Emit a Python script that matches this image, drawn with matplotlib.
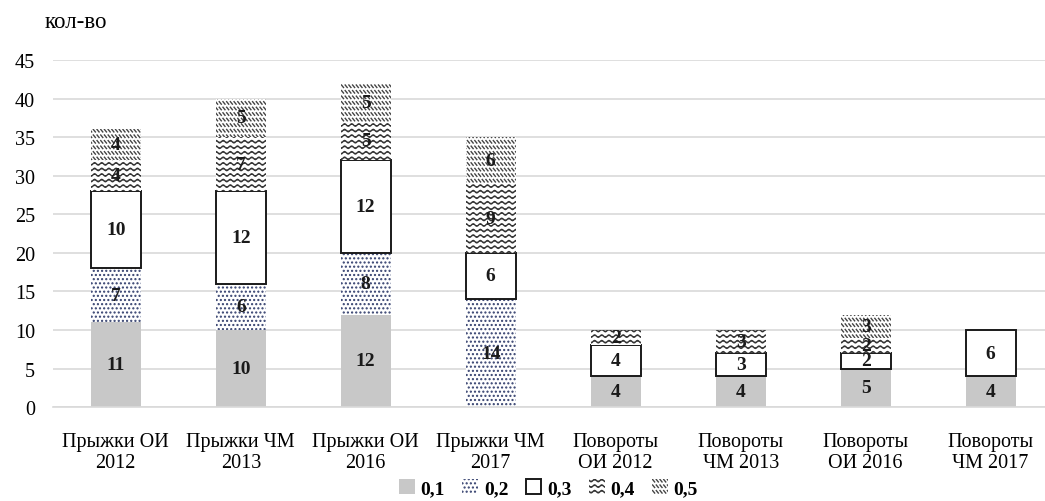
import numpy as np
import matplotlib
matplotlib.use("Agg")
import matplotlib.pyplot as plt
import matplotlib.hatch as mhatch
from matplotlib.path import Path

categories = ["Прыжки ОИ\n2012", "Прыжки ЧМ\n2013", "Прыжки ОИ\n2016", "Прыжки ЧМ\n2017",
              "Повороты\nОИ 2012", "Повороты\nЧМ 2013", "Повороты\nОИ 2016", "Повороты\nЧМ 2017"]
series_names = ["0,1", "0,2", "0,3", "0,4", "0,5"]
v01 = [11, 10, 12, 0, 4, 4, 5, 4]
v02 = [7, 6, 8, 14, 0, 0, 0, 0]
v03 = [10, 12, 12, 6, 4, 3, 2, 6]
v04 = [4, 7, 5, 9, 2, 3, 2, 0]
v05 = [4, 5, 5, 6, 0, 0, 3, 0]
y_ticks = [0, 5, 10, 15, 20, 25, 30, 35, 40, 45]


class WaveHatch(mhatch.HatchPatternBase):
    """Wavy rows, used for the '-' hatch character."""
    def __init__(self, hatch, density):
        self.num_lines = int(hatch.count('-') * density)
        self.periods = max(1, int(self.num_lines * 0.8))
        self.npts = 8 * self.periods + 1
        self.num_vertices = self.num_lines * self.npts

    def set_vertices_and_codes(self, vertices, codes):
        n = self.num_lines
        x = np.linspace(0.0, 1.0, self.npts)
        amp = 0.22 / n
        for i in range(n):
            y0 = (i + 0.5) / n
            s = slice(i * self.npts, (i + 1) * self.npts)
            vertices[s, 0] = x
            vertices[s, 1] = y0 + amp * np.sin(2 * np.pi * self.periods * x)
            codes[s] = Path.LINETO
            codes[i * self.npts] = Path.MOVETO


class DashHatch(mhatch.HatchPatternBase):
    """Rows of short backslash dashes, used for the '\\' hatch character."""
    def __init__(self, hatch, density):
        self.rows = int(hatch.count('\\') * density)
        self.cols = int(self.rows * 1.5)
        self.num_vertices = self.rows * self.cols * 2

    def set_vertices_and_codes(self, vertices, codes):
        k = 0
        for r in range(self.rows):
            y0 = (r + 0.25) / self.rows
            for c in range(self.cols):
                x0 = (c + 0.2) / self.cols
                vertices[k] = (x0, y0 + 0.45 / self.rows)
                vertices[k + 1] = (x0 + 0.55 / self.cols, y0)
                codes[k] = Path.MOVETO
                codes[k + 1] = Path.LINETO
                k += 2


mhatch._hatch_types[0] = WaveHatch
mhatch._hatch_types[3] = DashHatch


def main():
    plt.rcParams["font.family"] = ["Liberation Serif", "DejaVu Serif"]
    plt.rcParams["hatch.linewidth"] = 1.0

    fig = plt.figure(figsize=(10.45, 5.02), dpi=100)
    ax = fig.add_axes([0.051, 0.187, 0.949, 0.6915])

    x = np.arange(len(categories))
    width = 0.4
    data = [v01, v02, v03, v04, v05]
    styles = [
        dict(color="#C8C8C8", linewidth=0),
        dict(facecolor="white", edgecolor="#34406E", hatch="....", linewidth=0),
        dict(facecolor="white", edgecolor="#1A1A1A", linewidth=1.4),
        dict(facecolor="white", edgecolor="#333333", hatch="---", linewidth=0),
        dict(facecolor="white", edgecolor="#444444", hatch="\\\\\\", linewidth=0),
    ]

    bottom = np.zeros(len(categories))
    for vals, name, st in zip(data, series_names, styles):
        vals = np.array(vals, dtype=float)
        ax.bar(x, vals, width, bottom=bottom, label=name, zorder=2, **st)
        for xi, b, v in zip(x, bottom, vals):
            if v > 0:
                ax.text(xi, b + v / 2, f"{int(v)}", ha="center", va="center",
                        fontsize=14, fontweight="bold", color="#1A1A1A", zorder=3)
        bottom += vals

    ax.set_xlim(-0.5, 7.435)
    ax.set_ylim(0, 45)
    ax.set_yticks(y_ticks)
    ax.set_xticks(x)
    ax.set_xticklabels(categories, fontsize=14.5, linespacing=1.1)
    ax.tick_params(axis="y", labelsize=14.5, length=0, pad=13)
    ax.tick_params(axis="x", length=0, pad=18)
    ax.grid(axis="y", color="#D9D9D9", linewidth=1.2, zorder=0)
    for side in ["top", "right", "left"]:
        ax.spines[side].set_visible(False)
    ax.spines["bottom"].set_color("#D9D9D9")
    ax.spines["bottom"].set_linewidth(1.2)

    fig.text(0.073, 0.956, "кол-во", ha="center", va="center", fontsize=16.5)

    fig.legend(loc="center", bbox_to_anchor=(0.525, 0.025), ncol=5, frameon=False,
               prop={"size": 14, "weight": "bold"}, handlelength=0.8, handleheight=0.8,
               handletextpad=0.3, columnspacing=0.9)

    fig.savefig("out.png", dpi=100)


if __name__ == "__main__":
    main()
